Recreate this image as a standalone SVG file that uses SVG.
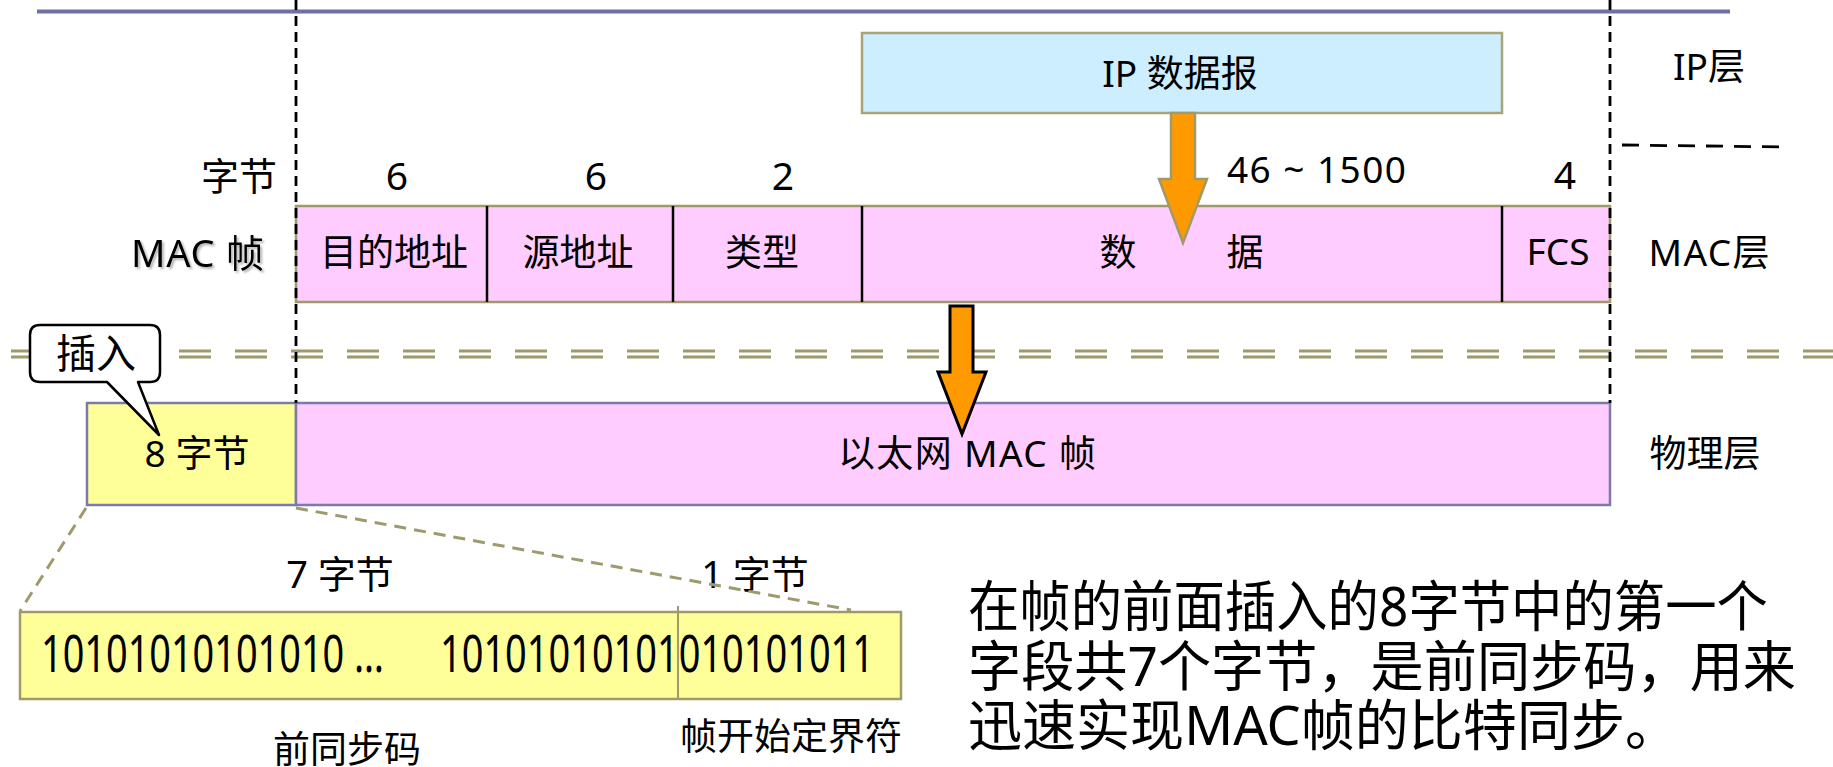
<svg xmlns="http://www.w3.org/2000/svg" width="1833" height="767" viewBox="0 0 1833 767">
<defs>
<style>
text{font-family:"Noto Sans","Noto Sans CJK SC",sans-serif;fill:#000;}
.t{font-size:37px;}
.n{font-size:39px;}
.m{text-anchor:middle;}
.e{text-anchor:end;}
.mac{fill:#ffccff;stroke:#a09a6a;stroke-width:2.5;}
.ip{fill:#cceeff;stroke:#a8a478;stroke-width:2.5;}
.phy{stroke:#7b7bab;stroke-width:2.5;}
.bits{fill:#ffff99;stroke:#a09a6a;stroke-width:2.5;}
.div{stroke:#000;stroke-width:2.5;}
.vdash{stroke:#000;stroke-width:2.8;stroke-dasharray:10 6;fill:none;}
.dd{stroke:#9e9a6c;stroke-width:3;stroke-dasharray:32 24;stroke-dashoffset:45;fill:none;}
.od{stroke:#9e9a6c;stroke-width:3;stroke-dasharray:12 8;fill:none;}
.arr{fill:#ff9900;}
.big{font-size:55px;}
</style>
<filter id="sh" x="-10%" y="-20%" width="130%" height="150%">
<feDropShadow dx="2" dy="2" stdDeviation="1.2" flood-color="#000" flood-opacity="0.3"/>
</filter>
</defs>
<rect width="1833" height="767" fill="#fff"/>

<g id="layer-lines">
<line x1="37" y1="11.5" x2="1730" y2="11.5" stroke="#7070a0" stroke-width="4"/>
<line class="dd" x1="0" y1="351" x2="1833" y2="351"/>
<line class="dd" x1="0" y1="357" x2="1833" y2="357"/>
<line x1="1622" y1="145" x2="1790" y2="147" stroke="#000" stroke-width="2.8" stroke-dasharray="17 11"/>
</g>

<g id="ip-datagram">
<rect class="ip" x="862" y="33" width="640" height="80"/>
<text class="t m" x="1180" y="87">IP 数据报</text>
</g>

<g id="layer-labels">
<text class="t m" x="1709" y="80">IP层</text>
<text class="t m" x="1709" y="266" textLength="121">MAC层</text>
<text class="t m" x="1705" y="467">物理层</text>
</g>

<g id="byte-counts">
<text class="t e" x="277" y="190" style="font-size:38px">字节</text>
<text class="n m" x="397" y="190">6</text>
<text class="n m" x="596" y="190">6</text>
<text class="n m" x="783" y="190">2</text>
<text class="t" x="1227" y="183" textLength="179">46 ~ 1500</text>
<text class="n m" x="1565" y="189">4</text>
</g>

<g id="mac-frame">
<text class="e" x="264" y="267" style="font-size:38px" textLength="133" filter="url(#sh)">MAC 帧</text>
<rect class="mac" x="296" y="206" width="1314" height="96"/>
<line class="div" x1="487" y1="206" x2="487" y2="302"/>
<line class="div" x1="673" y1="206" x2="673" y2="302"/>
<line class="div" x1="862" y1="206" x2="862" y2="302"/>
<line class="div" x1="1502" y1="206" x2="1502" y2="302"/>
<text class="t m" x="394" y="266">目的地址</text>
<text class="t m" x="578" y="266">源地址</text>
<text class="t m" x="762" y="266">类型</text>
<text class="t m" y="266"><tspan x="1118">数</tspan><tspan x="1245">据</tspan></text>
<text class="t m" x="1558" y="265">FCS</text>
</g>

<g id="physical-frame">
<rect class="phy" x="87" y="403" width="209" height="102" fill="#ffff99"/>
<rect class="phy" x="296" y="403" width="1314" height="102" fill="#ffccff"/>
<text class="t m" x="197" y="467">8 字节</text>
<text class="t m" x="967" y="467" textLength="258">以太网 MAC 帧</text>
</g>

<g id="preamble-bits">
<text class="m" x="340" y="588" style="font-size:38px">7 字节</text>
<text class="m" x="755" y="588" style="font-size:38px">1 字节</text>
<rect class="bits" x="20" y="612" width="881" height="87"/>
<line x1="678" y1="606" x2="678" y2="699" stroke="#a09a6a" stroke-width="2"/>
<text x="41" y="672" style="font-size:51px" textLength="343" lengthAdjust="spacingAndGlyphs">10101010101010 …</text>
<text x="440" y="672" style="font-size:51px" textLength="434" lengthAdjust="spacingAndGlyphs">10101010101010101011</text>
<text class="t m" x="347" y="763">前同步码</text>
<text class="t m" x="791" y="750">帧开始定界符</text>
</g>

<g id="note">
<text class="big" x="968" y="626" textLength="800" lengthAdjust="spacingAndGlyphs">在帧的前面插入的8字节中的第一个</text>
<text class="big" x="968" y="686" textLength="828" lengthAdjust="spacingAndGlyphs">字段共7个字节，是前同步码，用来</text>
<text class="big" x="968" y="745" textLength="711" lengthAdjust="spacingAndGlyphs">迅速实现MAC帧的比特同步。</text>
</g>

<g id="connectors">
<line class="vdash" x1="296" y1="0" x2="296" y2="403"/>
<line class="vdash" x1="1610" y1="0" x2="1610" y2="403"/>
<line class="od" x1="86" y1="508" x2="20" y2="611"/>
<line class="od" x1="296" y1="508" x2="851" y2="610"/>
<path class="arr" d="M1171,113 H1195 V179 H1207 L1183,243 L1159,179 H1171 Z" stroke="#a09a6a" stroke-width="2.5"/>
<path class="arr" d="M950,306 H973 V372 H986 L962,434 L938,372 H950 Z" stroke="#000" stroke-width="3"/>
</g>

<g id="callout-insert">
<path d="M40,325 H150 Q160,325 160,335 V372 Q160,382 150,382 H138 L159,435 L107,382 H40 Q30,382 30,372 V335 Q30,325 40,325 Z" fill="#fff" stroke="#000" stroke-width="2.5" stroke-linejoin="round"/>
<text class="m" x="96" y="368" style="font-size:40px">插入</text>
</g>
</svg>
